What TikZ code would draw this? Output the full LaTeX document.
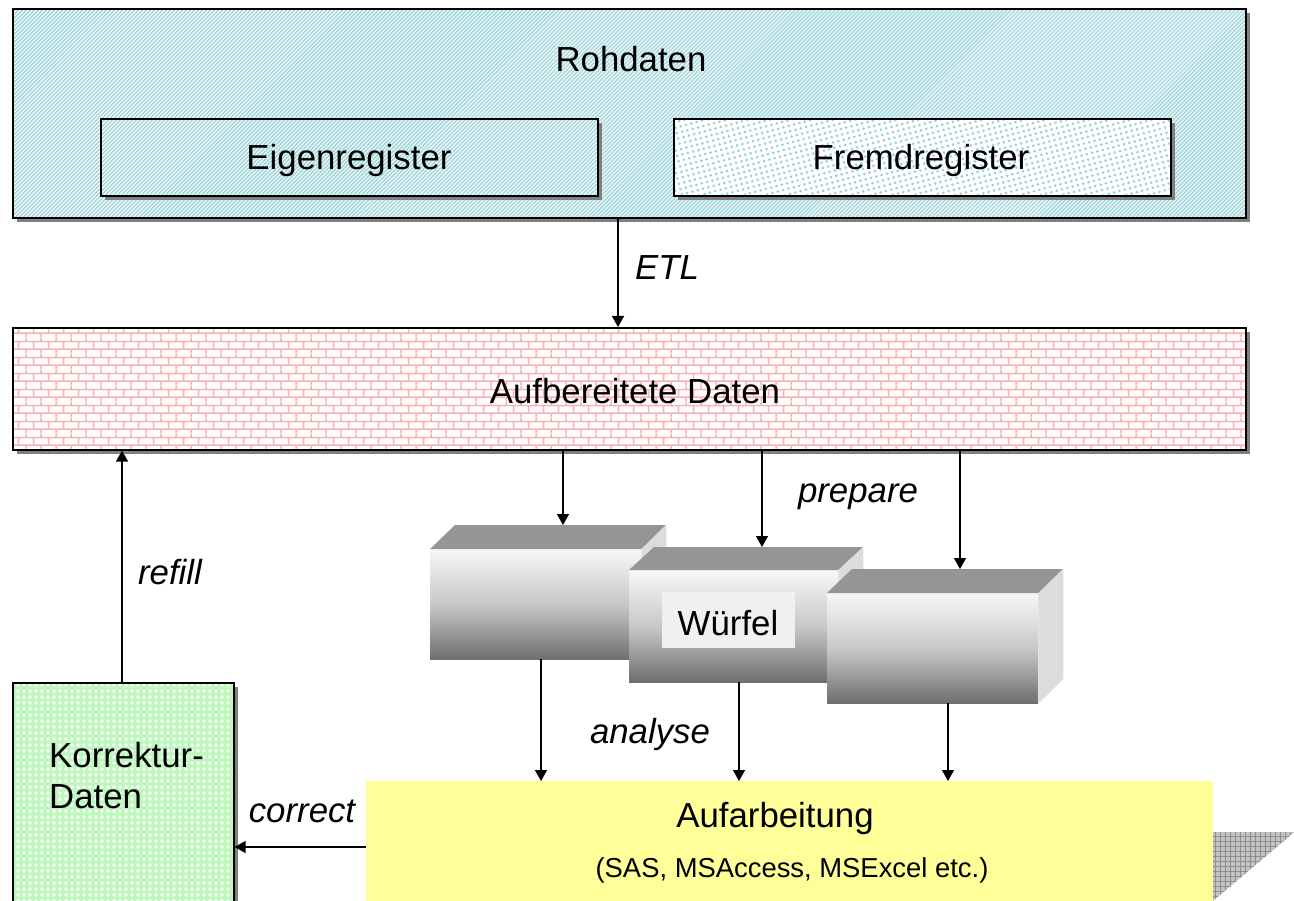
\documentclass[tikz,border=0pt]{standalone}
\usepackage{fontspec}
\setmainfont{Liberation Sans}
\usetikzlibrary{patterns,patterns.meta,arrows.meta,calc}

\definecolor{stripecyan}{RGB}{160,214,220}
\definecolor{dotcyan}{RGB}{150,210,218}
\definecolor{brickpink}{RGB}{255,175,175}
\definecolor{greenbase}{RGB}{190,248,190}
\definecolor{shadowgray}{RGB}{128,128,128}
\definecolor{yellowbox}{RGB}{255,255,153}
\definecolor{cubetopface}{RGB}{149,149,149}
\definecolor{cubeside}{RGB}{220,220,220}
\definecolor{cubelight}{RGB}{247,247,247}
\definecolor{cubemid}{RGB}{200,200,200}
\definecolor{cubedark}{RGB}{110,110,110}
\definecolor{gridbase}{RGB}{195,195,195}
\definecolor{gridline}{RGB}{140,140,140}
\definecolor{labelbox}{RGB}{240,240,240}

\tikzdeclarepattern{
  name=brickwall,
  type=uncolored,
  bounding box={(0pt,0pt) and (15.4pt,15.6pt)},
  tile size={(15.4pt,15.6pt)},
  code={
    \draw[line width=1.6pt]
      (0pt,3.9pt) -- (15.4pt,3.9pt)
      (0pt,11.7pt) -- (15.4pt,11.7pt)
      (3.85pt,3.9pt) -- (3.85pt,11.7pt)
      (11.55pt,11.7pt) -- (11.55pt,15.6pt)
      (11.55pt,0pt) -- (11.55pt,3.9pt);
  }
}

\tikzset{
  shadowed/.style={preaction={fill=shadowgray, transform canvas={shift={(4pt,-4pt)}}}},
  box/.style={draw=black, line width=1.6pt, rectangle, anchor=north west, inner sep=0pt, shadowed},
  stripebox/.style={box, preaction={fill=white},
    pattern={Lines[angle=45,distance=2.83pt,line width=1.5pt]}, pattern color=stripecyan},
  dotbox/.style={box, preaction={fill=white},
    pattern={Dots[radius=1.5pt,distance=5.5pt,angle=15]}, pattern color=dotcyan},
  brickbox/.style={box, preaction={fill=white}, pattern=brickwall, pattern color=brickpink},
  greenbox/.style={box, preaction={fill=greenbase},
    pattern={Dots[radius=1.9pt,distance=6pt]}, pattern color=white},
  cubefront/.style={anchor=north west, inner sep=0pt, rectangle,
    top color=cubelight, bottom color=cubedark, middle color=cubemid},
  txt/.style={font=\fontsize{34.8}{41}\selectfont, inner sep=0pt},
  itxt/.style={font=\fontsize{34.8}{41}\selectfont\itshape, inner sep=0pt},
  smalltxt/.style={font=\fontsize{27.4}{32}\selectfont, inner sep=0pt},
  arr/.style={-{Triangle[length=11pt,width=12pt]}, line width=1.4pt},
}

\begin{document}
\begin{tikzpicture}[x=1pt,y=-1pt]
\useasboundingbox (0,0) rectangle (1294,901);
\clip (0,0) rectangle (1294,901);

% Rohdaten
\node[stripebox, minimum width=1233pt, minimum height=209pt] (roh) at (12,8) {};
\node[txt, anchor=base] (trow) at (631,72) {Rohdaten};
\node[stripebox, minimum width=497pt, minimum height=77pt] (eigen) at (100,118) {};
\node[txt, anchor=base] (teigen) at (349,170) {Eigenregister};
\node[dotbox, minimum width=497pt, minimum height=77pt] (fremd) at (673,118) {};
\node[txt, anchor=base] (tfremd) at (921,170) {Fremdregister};

% Aufbereitete Daten
\node[brickbox, minimum width=1233pt, minimum height=122pt] (auf) at (12,327) {};
\node[txt, anchor=base] (tauf) at (635,404) {Aufbereitete Daten};

% Korrektur-Daten
\node[greenbox, minimum width=221pt, minimum height=240pt] (korr) at (12,682) {};
\node[txt, anchor=base west, align=left] (tkorr) at (49,808) {Korrektur-\\Daten};

% Aufarbeitung with grid shadow
\fill[preaction={fill=gridbase}, pattern={Hatch[angle=0,distance=5pt,line width=0.8pt]}, pattern color=gridline]
  (1213,832) -- (1298,832) -- (1298,829) -- (1213,901) -- cycle;
\node[fill=yellowbox, anchor=north west, inner sep=0pt, minimum width=847pt, minimum height=140pt] (aufarb) at (366,781) {};
\node[txt, anchor=base] (taufarb) at (775,827) {Aufarbeitung};
\node[smalltxt, anchor=base] (tsas) at (792,877) {(SAS, MSAccess, MSExcel etc.)};

% Cubes
\node[cubefront, minimum width=211pt, minimum height=110pt] (cube1) at (430,549) {};
\fill[cubetopface] (cube1.north west) -- ++(25,-24) coordinate (c1top) -- ++(211,0) -- (cube1.north east) -- cycle;
\fill[cubeside] (cube1.north east) -- ++(25,-24) -- ++(0,110) -- (cube1.south east) -- cycle;

\node[cubefront, minimum width=209pt, minimum height=112pt] (cube2) at (629,570) {};
\fill[cubetopface] (cube2.north west) -- ++(25,-23) coordinate (c2top) -- ++(209,0) -- (cube2.north east) -- cycle;
\fill[cubeside] (cube2.north east) -- ++(25,-23) -- ++(0,112) -- (cube2.south east) -- cycle;

\node[cubefront, minimum width=211pt, minimum height=110pt] (cube3) at (827,593) {};
\fill[cubetopface] (cube3.north west) -- ++(25,-24) coordinate (c3top) -- ++(211,0) -- (cube3.north east) -- cycle;
\fill[cubeside] (cube3.north east) -- ++(25,-24) -- ++(0,110) -- (cube3.south east) -- cycle;

\node[fill=labelbox, txt, minimum width=133pt, minimum height=56pt] (wlabel) at (728,620) {};
\node[txt, anchor=base] (twuerfel) at (728,635) {Würfel};

% x positions of connectors
\coordinate (xetl) at (618,0);
\coordinate (xrefill) at (122,0);
\coordinate (xp1) at (563,0);
\coordinate (xp2) at (762,0);
\coordinate (xp3) at (960,0);
\coordinate (xa1) at (541,0);
\coordinate (xa2) at (739,0);
\coordinate (xa3) at (948,0);
\coordinate (ycorr) at (0,847);

% Connectors
\draw[arr] (roh.south -| xetl) -- (auf.north -| xetl);
\node[itxt, anchor=base] (letl) at (667,280) {ETL};

\draw[arr] (korr.north -| xrefill) -- (auf.south -| xrefill);
\node[itxt, anchor=base] (lrefill) at (170,584) {refill};

\draw[arr] (auf.south -| xp1) -- (c1top -| xp1);
\draw[arr] (auf.south -| xp2) -- (c2top -| xp2);
\draw[arr] (auf.south -| xp3) -- (c3top -| xp3);
\node[itxt, anchor=base] (lprepare) at (858,502) {prepare};

\draw[arr] (cube1.south -| xa1) -- (aufarb.north -| xa1);
\draw[arr] (cube2.south -| xa2) -- (aufarb.north -| xa2);
\draw[arr] (cube3.south -| xa3) -- (aufarb.north -| xa3);
\node[itxt, anchor=base] (lanalyse) at (650,743) {analyse};

\draw[arr] (aufarb.west |- ycorr) -- (korr.east |- ycorr);
\node[itxt, anchor=base] (lcorrect) at (302,822) {correct};
\end{tikzpicture}
\end{document}
